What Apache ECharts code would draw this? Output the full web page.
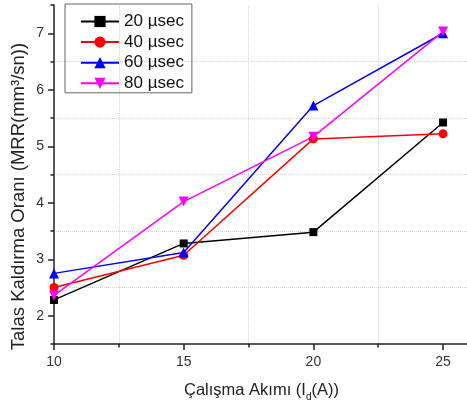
<!DOCTYPE html>
<html>
<head>
<meta charset="utf-8">
<script src="https://cdn.jsdelivr.net/npm/echarts@6/dist/echarts.min.js"></script>
<style>
  html, body { margin: 0; padding: 0; background: #fff; }
  #main { width: 467px; height: 401px; }
</style>
</head>
<body>
<div id="main"></div>
<script>
// akım değerleri (A)
var akim = [10, 15, 20, 25];
// MRR serileri
var seriesNames = ['20 µsec', '40 µsec', '60 µsec', '80 µsec'];
var mrr20 = [2.28, 3.28, 3.48, 5.42];
var mrr40 = [2.50, 3.07, 5.13, 5.22];
var mrr60 = [2.75, 3.12, 5.72, 7.00];
var mrr80 = [2.36, 4.02, 5.17, 7.03];
// eksen etiketleri ve ara çentikler
var yTickLabels = [2, 3, 4, 5, 6, 7];
var xTickLabels = [10, 15, 20, 25];
var xMinorTicks = [12.5, 17.5, 22.5];

var FONT = '"Liberation Sans", Arial, sans-serif';
var AXIS_COLOR = '#222';
var GRID_LINE = { color: '#d4d4d4', type: 'dotted', width: 1 };

function pairs(vals) {
    return akim.map(function (x, i) { return [x, vals[i]]; });
}

function makeSeries(name, vals, color, symbol, size, rotate) {
    return {
        name: name,
        type: 'line',
        xAxisIndex: 0,
        yAxisIndex: 0,
        data: pairs(vals),
        symbol: symbol,
        symbolSize: size,
        symbolRotate: rotate || 0,
        showAllSymbol: true,
        lineStyle: { color: color, width: 1.5 },
        itemStyle: { color: color },
        emphasis: { disabled: true },
        animation: false
    };
}

var myChart = echarts.init(document.getElementById('main'));

var option = {
    backgroundColor: '#fff',
    animation: false,
    grid: { left: 54, top: 5, bottom: 57, width: 415, containLabel: false, outerBoundsMode: 'none' },
    legend: {
        left: 65,
        top: 4,
        orient: 'vertical',
        data: seriesNames,
        itemWidth: 38,
        itemHeight: 14,
        itemGap: 3.6,
        padding: [9, 8, 1, 15],
        borderColor: '#666',
        borderWidth: 1,
        textStyle: { fontFamily: FONT, fontSize: 17, color: '#111' }
    },
    xAxis: [{
        type: 'value',
        min: 10,
        max: 26,
        interval: 5,
        name: '{a|Çalışma Akımı (I}{b|d}{a|(A))}',
        nameLocation: 'middle',
        nameGap: 34,
        nameTextStyle: {
            rich: {
                a: { fontFamily: FONT, fontSize: 16.5, color: '#222', lineHeight: 24 },
                b: { fontFamily: FONT, fontSize: 10, color: '#222', lineHeight: 10, verticalAlign: 'bottom' }
            }
        },
        axisLine: { show: true, onZero: false, lineStyle: { color: AXIS_COLOR, width: 1.5 } },
        axisTick: { show: true, length: 6, customValues: xTickLabels, lineStyle: { color: AXIS_COLOR, width: 1.5 } },
        splitLine: { show: false },
        axisLabel: {
            fontFamily: FONT, fontSize: 14, color: '#333', margin: 11,
            customValues: xTickLabels
        }
    }, {
        type: 'value',
        min: 10,
        max: 26,
        interval: 5,
        position: 'bottom',
        axisLine: { show: false },
        axisTick: { show: true, length: 3.5, customValues: xMinorTicks, lineStyle: { color: AXIS_COLOR, width: 1.5 } },
        splitLine: { show: true, customValues: xMinorTicks, lineStyle: GRID_LINE },
        axisLabel: { show: false }
    }],
    yAxis: [{
        type: 'value',
        min: 1.5,
        max: 7.5,
        interval: 1,
        name: 'Talas Kaldırma Oranı (MRR(mm³/sn))',
        nameLocation: 'middle',
        nameGap: 26,
        nameTextStyle: { fontFamily: FONT, fontSize: 18.5, color: '#222', padding: [0, 44, 0, 0] },
        axisLine: { show: true, onZero: false, lineStyle: { color: AXIS_COLOR, width: 1.5 } },
        axisTick: { show: true, length: 3.5, lineStyle: { color: AXIS_COLOR, width: 1.5 } },
        minorTick: { show: true, splitNumber: 2, length: 6, lineStyle: { color: AXIS_COLOR, width: 1.5 } },
        splitLine: { show: true, showMinLine: false, showMaxLine: false, lineStyle: GRID_LINE },
        axisLabel: { show: false }
    }, {
        type: 'value',
        min: 1.5,
        max: 7.5,
        interval: 0.5,
        position: 'left',
        axisLine: { show: false },
        axisTick: { show: false },
        splitLine: { show: false },
        axisLabel: {
            fontFamily: FONT, fontSize: 14, color: '#333', margin: 10,
            formatter: function (v) { return yTickLabels.indexOf(v) >= 0 ? String(v) : ''; }
        }
    }],
    series: [
        makeSeries(seriesNames[0], mrr20, '#000000', 'rect', 8),
        makeSeries(seriesNames[1], mrr40, '#ff0000', 'circle', 9),
        makeSeries(seriesNames[2], mrr60, '#0000ff', 'triangle', 10),
        makeSeries(seriesNames[3], mrr80, '#ff00ff', 'triangle', 10, 180)
    ]
};

myChart.setOption(option, true);
</script>
</body>
</html>
